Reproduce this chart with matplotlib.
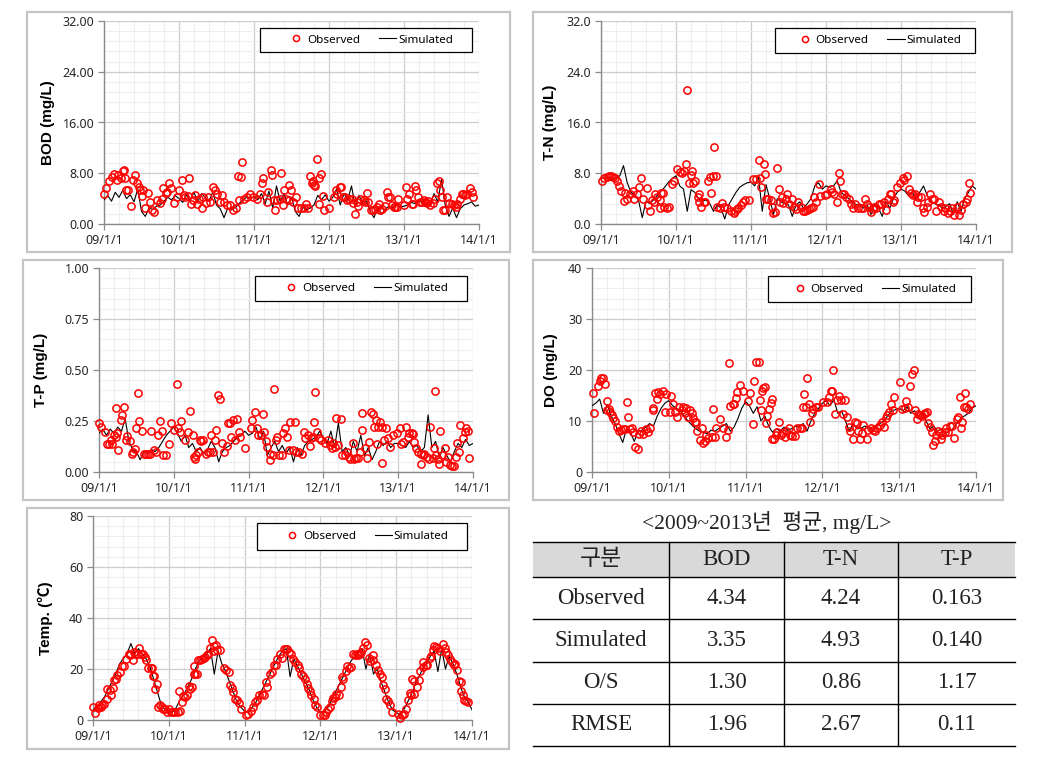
import numpy as np
import matplotlib
matplotlib.use("Agg")
import matplotlib.pyplot as plt
from matplotlib.patches import Rectangle
from matplotlib.lines import Line2D
from matplotlib.ticker import MultipleLocator, FormatStrFormatter

# ---------------- data (time = years since 2009-01-01) ----------------
year_labels = ['09/1/1', '10/1/1', '11/1/1', '12/1/1', '13/1/1', '14/1/1']
legend_labels = ['Observed', 'Simulated']

bod_obs_t = [0.00, 0.03, 0.07, 0.10, 0.13, 0.17, 0.19, 0.22, 0.25, 0.27,
             0.28, 0.29, 0.32, 0.36, 0.39, 0.41, 0.44, 0.46, 0.48, 0.50,
             0.52, 0.55, 0.59, 0.61, 0.64, 0.67, 0.70, 0.74, 0.77, 0.79,
             0.82, 0.84, 0.87, 0.89, 0.93, 0.97, 1.00, 1.04, 1.06, 1.08,
             1.12, 1.13, 1.16, 1.19, 1.21, 1.24, 1.27, 1.30, 1.32, 1.36,
             1.39, 1.41, 1.45, 1.48, 1.51, 1.55, 1.57, 1.60, 1.64, 1.68,
             1.72, 1.76, 1.78, 1.80, 1.82, 1.84, 1.87, 1.90, 1.95, 1.99,
             2.04, 2.08, 2.10, 2.12, 2.17, 2.19, 2.22, 2.24, 2.27, 2.28,
             2.31, 2.35, 2.36, 2.39, 2.40, 2.43, 2.46, 2.47, 2.49, 2.52,
             2.56, 2.59, 2.63, 2.66, 2.69, 2.72, 2.75, 2.77, 2.78, 2.80,
             2.81, 2.84, 2.86, 2.87, 2.89, 2.92, 2.93, 3.00, 3.07, 3.09,
             3.11, 3.14, 3.16, 3.18, 3.21, 3.24, 3.27, 3.30, 3.32, 3.35,
             3.37, 3.39, 3.41, 3.46, 3.48, 3.50, 3.52, 3.56, 3.59, 3.61,
             3.64, 3.66, 3.68, 3.70, 3.75, 3.77, 3.79, 3.81, 3.84, 3.86,
             3.88, 3.91, 3.92, 4.00, 4.03, 4.04, 4.07, 4.10, 4.12, 4.15,
             4.16, 4.18, 4.21, 4.24, 4.26, 4.28, 4.30, 4.32, 4.35, 4.39,
             4.41, 4.44, 4.46, 4.48, 4.50, 4.52, 4.55, 4.57, 4.60, 4.64,
             4.67, 4.69, 4.71, 4.74, 4.77, 4.79, 4.81, 4.84, 4.88, 4.90,
             4.92]
bod_obs_v = [4.7, 5.6, 6.7, 7.4, 7.9, 7.0, 7.7, 7.2, 8.3, 8.5,
             7.2, 5.3, 5.3, 2.9, 6.9, 7.7, 6.4, 5.8, 5.3, 4.4,
             5.4, 2.5, 4.9, 3.5, 2.2, 1.9, 3.8, 3.3, 3.9, 5.6,
             4.9, 5.1, 6.5, 5.6, 3.3, 4.3, 5.4, 6.9, 4.6, 4.2,
             4.4, 7.2, 3.2, 3.8, 4.6, 3.2, 4.0, 2.6, 4.3, 3.3,
             4.3, 3.4, 5.9, 5.4, 4.8, 3.5, 4.6, 3.4, 3.0, 3.0,
             2.2, 2.5, 7.5, 3.8, 7.4, 9.8, 3.9, 4.3, 4.8, 4.3,
             4.0, 4.8, 6.5, 7.2, 3.5, 5.1, 8.5, 7.7, 3.8, 2.2,
             3.8, 3.9, 8.0, 3.0, 5.4, 4.0, 3.8, 6.1, 5.4, 3.5,
             4.3, 2.5, 2.5, 2.5, 3.2, 2.5, 7.5, 6.4, 6.7, 6.1,
             6.0, 10.2, 7.2, 3.2, 7.9, 4.4, 2.2, 2.5, 4.2, 5.4,
             4.8, 5.9, 5.8, 4.3, 4.3, 3.8, 3.9, 4.0, 3.3, 1.6,
             3.4, 2.8, 4.0, 3.8, 3.5, 4.9, 3.4, 2.2, 2.2, 2.3,
             2.7, 3.2, 2.2, 2.3, 2.8, 5.1, 4.3, 4.2, 3.0, 2.7,
             2.7, 2.7, 4.0, 3.0, 5.9, 4.0, 4.8, 3.2, 3.2, 6.0,
             5.4, 4.3, 3.5, 3.5, 3.8, 3.5, 3.3, 3.7, 3.0, 3.3,
             4.0, 6.4, 6.7, 5.3, 4.3, 2.2, 2.2, 4.2, 3.3, 3.2,
             3.0, 2.7, 3.2, 4.0, 4.8, 4.8, 4.6, 4.8, 5.6, 5.1,
             4.3]
bod_sim = [3.8, 4.5, 3.6, 5.0, 4.2, 5.3, 4.0, 4.6, 3.5, 5.5,
           2.0, 1.2, 2.5, 2.3, 2.8, 3.0, 3.6, 4.2, 3.8, 4.5,
           4.0, 3.4, 4.6, 3.8, 5.0, 3.5, 4.8, 4.2, 3.6, 5.0,
           3.0, 2.4, 1.0, 2.5, 2.2, 2.6, 3.2, 3.8, 4.2, 4.0,
           4.3, 3.8, 4.8, 3.2, 5.2, 2.5, 6.0, 3.5, 4.8, 3.0,
           4.2, 2.0, 1.2, 2.6, 2.3, 2.5, 3.0, 4.5, 3.8, 4.6,
           3.6, 4.2, 5.5, 3.0, 4.8, 3.8, 6.0, 2.8, 4.5, 3.2,
           3.6, 2.0, 1.0, 2.6, 1.5, 2.4, 2.8, 2.6, 3.0, 2.7,
           2.8, 3.0, 3.4, 3.2, 3.6, 3.4, 4.2, 3.0, 4.8, 3.5,
           7.0, 3.0, 1.2, 2.5, 1.0, 2.4, 3.0, 3.2, 3.5, 2.8,
           3.0]

tn_obs_t = [0.01, 0.04, 0.08, 0.10, 0.13, 0.16, 0.19, 0.21, 0.24, 0.26,
            0.30, 0.32, 0.35, 0.39, 0.42, 0.44, 0.48, 0.51, 0.53, 0.56,
            0.61, 0.63, 0.65, 0.68, 0.70, 0.72, 0.75, 0.78, 0.79, 0.80,
            0.82, 0.84, 0.88, 0.91, 0.95, 0.97, 1.01, 1.05, 1.08, 1.10,
            1.13, 1.14, 1.17, 1.20, 1.21, 1.23, 1.25, 1.29, 1.30, 1.31,
            1.33, 1.37, 1.39, 1.43, 1.45, 1.47, 1.49, 1.51, 1.53, 1.55,
            1.58, 1.61, 1.64, 1.68, 1.73, 1.77, 1.79, 1.81, 1.83, 1.86,
            1.89, 1.92, 1.97, 2.03, 2.07, 2.10, 2.12, 2.13, 2.17, 2.19,
            2.20, 2.23, 2.26, 2.28, 2.29, 2.32, 2.35, 2.37, 2.39, 2.41,
            2.43, 2.46, 2.48, 2.51, 2.54, 2.57, 2.60, 2.63, 2.66, 2.69,
            2.72, 2.74, 2.77, 2.80, 2.82, 2.84, 2.87, 2.90, 2.92, 2.98,
            3.01, 3.06, 3.08, 3.10, 3.15, 3.17, 3.19, 3.21, 3.24, 3.27,
            3.30, 3.33, 3.36, 3.39, 3.42, 3.46, 3.49, 3.52, 3.55, 3.57,
            3.60, 3.63, 3.64, 3.67, 3.70, 3.73, 3.77, 3.80, 3.82, 3.85,
            3.87, 3.89, 3.91, 3.94, 3.99, 4.03, 4.04, 4.08, 4.10, 4.13,
            4.16, 4.19, 4.21, 4.23, 4.26, 4.29, 4.31, 4.34, 4.36, 4.38,
            4.41, 4.44, 4.47, 4.50, 4.53, 4.57, 4.59, 4.62, 4.65, 4.68,
            4.70, 4.74, 4.77, 4.80, 4.83, 4.86, 4.88, 4.90, 4.92]
tn_obs_v = [6.7, 7.3, 7.4, 7.6, 7.6, 7.4, 7.2, 6.7, 6.0, 5.2,
            3.6, 4.9, 4.0, 4.8, 5.2, 3.9, 4.7, 5.9, 7.2, 3.9,
            5.6, 3.0, 2.1, 3.8, 3.5, 4.7, 4.3, 3.8, 2.6, 4.9,
            4.9, 2.7, 2.5, 2.7, 6.3, 6.7, 8.6, 8.2, 8.1, 8.4,
            9.5, 21.2, 6.5, 7.7, 8.4, 6.5, 6.7, 4.3, 3.5, 4.7,
            2.7, 3.5, 3.5, 6.7, 7.4, 4.9, 7.6, 12.1, 7.6, 2.7,
            2.6, 3.3, 2.7, 2.5, 2.1, 1.7, 2.1, 2.3, 2.6, 3.0,
            3.5, 3.8, 3.8, 7.1, 7.1, 10.1, 7.2, 5.9, 9.5, 7.9,
            4.0, 4.0, 3.8, 2.7, 1.7, 1.9, 8.9, 5.5, 3.5, 4.3,
            3.3, 3.9, 4.7, 3.1, 3.9, 2.7, 2.3, 3.5, 2.7, 2.1,
            2.1, 2.2, 2.3, 2.5, 2.7, 4.2, 3.4, 6.3, 4.4, 4.6,
            4.7, 5.5, 5.1, 4.8, 3.4, 8.0, 6.8, 4.8, 4.8, 4.3,
            3.9, 3.1, 2.5, 3.1, 2.5, 2.6, 2.6, 3.9, 3.1, 2.7,
            1.9, 2.3, 2.7, 2.5, 3.1, 3.1, 3.4, 2.2, 3.9, 4.7,
            4.8, 3.4, 3.8, 5.8, 6.5, 7.2, 6.9, 7.6, 5.5, 4.9,
            4.6, 4.7, 3.5, 4.3, 4.2, 2.5, 1.9, 2.7, 3.5, 4.8,
            3.9, 3.9, 2.1, 3.5, 2.7, 2.1, 2.5, 1.7, 2.1, 2.5,
            1.4, 2.7, 1.4, 2.2, 3.1, 3.5, 3.9, 6.5, 4.9]
tn_sim = [7.5, 7.2, 7.4, 7.0, 7.3, 7.6, 9.2, 6.5, 5.0, 4.5,
          3.8, 1.0, 3.6, 3.2, 3.8, 4.5, 5.2, 5.8, 6.6, 7.2,
          7.6, 6.0, 5.5, 2.0, 5.4, 5.0, 4.0, 3.6, 3.8, 3.2,
          2.0, 3.0, 2.5, 0.8, 3.0, 4.0, 5.0, 5.8, 6.2, 6.5,
          6.6, 6.0, 7.5, 2.0, 6.2, 4.0, 1.5, 4.0, 3.5, 3.2,
          3.0, 1.2, 3.0, 3.5, 2.5, 3.2, 4.0, 6.0, 6.5, 5.5,
          6.0, 5.8, 6.0, 6.8, 5.0, 4.5, 4.0, 3.5, 3.0, 3.2,
          2.5, 3.0, 1.5, 3.2, 2.5, 1.2, 3.5, 2.5, 4.0, 5.0,
          5.5, 5.2, 4.5, 5.0, 4.0, 5.0, 6.0, 4.5, 3.5, 3.2,
          3.0, 2.5, 2.8, 3.2, 1.5, 3.5, 2.0, 4.0, 5.0, 6.0,
          5.5]

tp_obs_t = [0.00, 0.03, 0.08, 0.11, 0.14, 0.16, 0.18, 0.20, 0.23, 0.24,
            0.23, 0.26, 0.29, 0.31, 0.33, 0.36, 0.38, 0.41, 0.44, 0.46,
            0.48, 0.50, 0.52, 0.54, 0.57, 0.60, 0.63, 0.66, 0.68, 0.70,
            0.73, 0.76, 0.79, 0.81, 0.84, 0.86, 0.89, 0.93, 0.96, 1.00,
            1.04, 1.06, 1.08, 1.10, 1.15, 1.19, 1.22, 1.25, 1.27, 1.28,
            1.30, 1.33, 1.35, 1.37, 1.39, 1.43, 1.46, 1.48, 1.50, 1.53,
            1.55, 1.57, 1.59, 1.62, 1.64, 1.67, 1.71, 1.73, 1.75, 1.77,
            1.79, 1.82, 1.84, 1.87, 1.89, 1.95, 2.03, 2.05, 2.08, 2.11,
            2.13, 2.16, 2.19, 2.20, 2.23, 2.25, 2.28, 2.29, 2.32, 2.34,
            2.36, 2.38, 2.41, 2.44, 2.46, 2.48, 2.52, 2.54, 2.56, 2.59,
            2.62, 2.64, 2.68, 2.72, 2.74, 2.76, 2.80, 2.82, 2.84, 2.86,
            2.88, 2.89, 2.92, 2.94, 2.97, 3.02, 3.06, 3.09, 3.11, 3.13,
            3.15, 3.17, 3.20, 3.24, 3.25, 3.29, 3.31, 3.34, 3.36, 3.39,
            3.41, 3.43, 3.46, 3.49, 3.51, 3.52, 3.55, 3.58, 3.61, 3.63,
            3.66, 3.67, 3.70, 3.71, 3.73, 3.76, 3.78, 3.79, 3.81, 3.84,
            3.86, 3.89, 3.93, 3.98, 4.02, 4.04, 4.06, 4.10, 4.13, 4.15,
            4.18, 4.20, 4.21, 4.24, 4.27, 4.30, 4.31, 4.33, 4.35, 4.38,
            4.41, 4.43, 4.46, 4.48, 4.49, 4.51, 4.53, 4.55, 4.56, 4.59,
            4.62, 4.64, 4.67, 4.69, 4.72, 4.74, 4.77, 4.79, 4.81, 4.83,
            4.86, 4.89, 4.91, 4.93, 4.95]
tp_obs_v = [0.239, 0.223, 0.198, 0.136, 0.136, 0.157, 0.136, 0.182, 0.173, 0.190,
            0.316, 0.108, 0.255, 0.277, 0.321, 0.157, 0.178, 0.152, 0.087, 0.100,
            0.113, 0.218, 0.386, 0.252, 0.201, 0.087, 0.087, 0.087, 0.087, 0.201,
            0.108, 0.100, 0.182, 0.252, 0.201, 0.083, 0.083, 0.136, 0.239, 0.206,
            0.430, 0.214, 0.198, 0.252, 0.157, 0.198, 0.300, 0.182, 0.075, 0.064,
            0.083, 0.100, 0.157, 0.152, 0.157, 0.087, 0.100, 0.097, 0.182, 0.100,
            0.157, 0.206, 0.378, 0.357, 0.141, 0.100, 0.129, 0.239, 0.239, 0.173,
            0.255, 0.157, 0.260, 0.198, 0.173, 0.119, 0.214, 0.255, 0.296, 0.218,
            0.182, 0.182, 0.283, 0.198, 0.152, 0.124, 0.059, 0.087, 0.083, 0.408,
            0.157, 0.173, 0.083, 0.083, 0.190, 0.214, 0.173, 0.108, 0.247, 0.108,
            0.247, 0.097, 0.097, 0.087, 0.198, 0.169, 0.182, 0.129, 0.169, 0.173,
            0.247, 0.391, 0.198, 0.165, 0.157, 0.141, 0.157, 0.133, 0.119, 0.141,
            0.124, 0.264, 0.133, 0.260, 0.083, 0.083, 0.100, 0.075, 0.064, 0.141,
            0.064, 0.070, 0.070, 0.100, 0.206, 0.288, 0.116, 0.067, 0.149, 0.296,
            0.283, 0.223, 0.255, 0.136, 0.223, 0.247, 0.223, 0.043, 0.157, 0.218,
            0.165, 0.124, 0.182, 0.190, 0.218, 0.136, 0.149, 0.223, 0.173, 0.190,
            0.190, 0.185, 0.149, 0.116, 0.100, 0.087, 0.038, 0.083, 0.087, 0.075,
            0.064, 0.223, 0.067, 0.116, 0.399, 0.083, 0.064, 0.038, 0.201, 0.083,
            0.119, 0.051, 0.075, 0.034, 0.031, 0.031, 0.075, 0.141, 0.100, 0.231,
            0.169, 0.198, 0.214, 0.201, 0.070]
tp_sim = [0.19, 0.21, 0.18, 0.21, 0.19, 0.22, 0.20, 0.26, 0.15, 0.11,
          0.10, 0.06, 0.10, 0.09, 0.11, 0.10, 0.12, 0.15, 0.18, 0.20,
          0.22, 0.19, 0.15, 0.18, 0.12, 0.14, 0.10, 0.12, 0.09, 0.11,
          0.15, 0.12, 0.05, 0.10, 0.12, 0.13, 0.15, 0.17, 0.18, 0.20,
          0.18, 0.19, 0.22, 0.16, 0.20, 0.08, 0.12, 0.15, 0.10, 0.13,
          0.09, 0.12, 0.05, 0.12, 0.08, 0.13, 0.15, 0.16, 0.17, 0.20,
          0.17, 0.14, 0.20, 0.12, 0.24, 0.10, 0.12, 0.08, 0.15, 0.10,
          0.18, 0.08, 0.12, 0.06, 0.10, 0.15, 0.13, 0.15, 0.12, 0.14,
          0.14, 0.13, 0.12, 0.15, 0.12, 0.13, 0.10, 0.12, 0.28, 0.12,
          0.15, 0.07, 0.12, 0.08, 0.05, 0.10, 0.14, 0.12, 0.16, 0.13,
          0.14]

do_obs_t = [0.01, 0.03, 0.08, 0.10, 0.12, 0.14, 0.17, 0.19, 0.20, 0.22,
            0.24, 0.26, 0.27, 0.30, 0.32, 0.35, 0.38, 0.40, 0.43, 0.45,
            0.47, 0.50, 0.52, 0.53, 0.56, 0.60, 0.61, 0.64, 0.67, 0.70,
            0.73, 0.76, 0.79, 0.80, 0.82, 0.84, 0.86, 0.89, 0.93, 0.95,
            0.97, 1.02, 1.03, 1.06, 1.08, 1.11, 1.13, 1.17, 1.19, 1.21,
            1.23, 1.25, 1.27, 1.30, 1.32, 1.34, 1.36, 1.37, 1.40, 1.43,
            1.45, 1.47, 1.49, 1.51, 1.56, 1.58, 1.60, 1.62, 1.67, 1.71,
            1.75, 1.77, 1.79, 1.80, 1.83, 1.85, 1.87, 1.89, 1.93, 1.96,
            2.03, 2.06, 2.09, 2.11, 2.13, 2.18, 2.19, 2.20, 2.21, 2.23,
            2.25, 2.27, 2.28, 2.31, 2.33, 2.35, 2.34, 2.37, 2.40, 2.41,
            2.44, 2.46, 2.48, 2.51, 2.53, 2.56, 2.58, 2.61, 2.64, 2.67,
            2.71, 2.73, 2.75, 2.76, 2.79, 2.80, 2.82, 2.84, 2.86, 2.88,
            2.92, 2.94, 3.01, 3.06, 3.08, 3.11, 3.13, 3.14, 3.17, 3.19,
            3.21, 3.24, 3.27, 3.30, 3.32, 3.34, 3.36, 3.40, 3.43, 3.45,
            3.47, 3.49, 3.51, 3.53, 3.58, 3.60, 3.63, 3.66, 3.69, 3.71,
            3.75, 3.77, 3.80, 3.83, 3.84, 3.87, 3.89, 3.92, 3.93, 4.01,
            4.03, 4.07, 4.09, 4.12, 4.14, 4.17, 4.19, 4.21, 4.23, 4.25,
            4.27, 4.30, 4.32, 4.34, 4.36, 4.38, 4.40, 4.43, 4.44, 4.46,
            4.48, 4.50, 4.53, 4.54, 4.56, 4.59, 4.61, 4.63, 4.66, 4.69,
            4.71, 4.75, 4.77, 4.79, 4.80, 4.82, 4.84, 4.86, 4.87, 4.89,
            4.92]
do_obs_v = [15.5, 11.5, 16.8, 17.9, 18.4, 18.5, 17.2, 14.0, 12.2, 12.4,
            11.8, 11.2, 10.5, 10.0, 8.9, 8.1, 8.2, 8.4, 8.4, 13.7,
            10.7, 8.5, 8.7, 7.9, 5.0, 4.5, 7.4, 8.1, 7.4, 8.4,
            7.9, 8.7, 12.2, 12.6, 15.5, 14.4, 15.7, 15.3, 15.8, 11.8,
            15.3, 11.8, 15.0, 13.3, 11.8, 10.7, 12.8, 12.2, 12.8, 11.5,
            12.6, 10.7, 12.2, 11.5, 10.5, 9.9, 9.8, 8.1, 6.3, 8.7,
            5.6, 6.0, 7.3, 6.7, 6.9, 12.4, 6.9, 8.6, 10.4, 8.7,
            6.9, 8.2, 21.3, 13.0, 13.3, 13.3, 14.6, 15.6, 17.1, 15.8,
            13.9, 15.5, 9.4, 17.9, 21.5, 21.5, 14.1, 12.2, 15.9, 16.4,
            16.6, 9.6, 10.9, 12.4, 13.5, 14.3, 6.5, 6.5, 7.3, 7.9,
            9.8, 7.3, 7.6, 6.9, 8.1, 8.6, 7.3, 7.1, 7.1, 8.7,
            8.7, 8.6, 12.8, 15.3, 12.8, 18.4, 13.3, 9.9, 11.5, 12.4,
            12.8, 12.8, 13.8, 13.8, 14.8, 15.8, 15.8, 20.0, 11.3, 14.1,
            15.0, 14.1, 11.3, 14.1, 10.7, 8.9, 8.1, 6.5, 9.9, 9.6,
            8.1, 6.5, 7.6, 9.2, 6.5, 8.2, 8.7, 8.2, 8.1, 8.6,
            9.2, 9.8, 8.9, 10.5, 11.1, 11.7, 13.3, 12.2, 14.8, 17.6,
            12.4, 12.5, 14.0, 12.8, 16.8, 19.2, 20.0, 12.2, 10.4, 11.3,
            11.2, 10.9, 11.3, 11.5, 11.7, 9.6, 8.9, 7.8, 5.2, 6.1,
            7.3, 8.1, 7.6, 6.5, 7.3, 7.9, 8.6, 7.9, 9.1, 9.1,
            6.6, 10.4, 10.7, 14.8, 8.6, 9.9, 12.8, 15.5, 12.8, 12.4,
            13.3]
do_sim = [13.0, 13.5, 14.3, 11.5, 13.2, 11.0, 9.5, 7.5, 5.8, 8.5,
          7.8, 6.0, 8.0, 8.2, 8.8, 9.5, 9.0, 11.0, 12.5, 13.5,
          14.0, 13.0, 12.5, 12.0, 11.0, 10.0, 9.2, 8.5, 8.0, 7.8,
          7.5, 8.2, 8.0, 8.5, 9.0, 9.5, 8.0, 8.8, 10.5, 12.5,
          13.8, 13.0, 11.5, 12.8, 10.0, 11.0, 9.0, 7.8, 8.5, 8.0,
          8.8, 8.2, 8.5, 9.0, 8.8, 9.5, 8.0, 10.0, 11.5, 12.5,
          13.5, 14.0, 13.0, 14.2, 11.5, 12.0, 10.0, 8.0, 9.5, 8.5,
          8.5, 9.0, 8.8, 8.0, 9.0, 9.5, 10.0, 11.0, 12.0, 12.2,
          12.5, 12.0, 12.8, 11.5, 12.0, 11.0, 11.5, 10.0, 8.5, 9.0,
          8.0, 8.5, 7.5, 8.0, 8.5, 9.5, 10.5, 11.0, 11.5, 12.5,
          13.0]

temp_obs_t = [0.00, 0.02, 0.06, 0.08, 0.11, 0.12, 0.15, 0.18, 0.19, 0.22,
              0.24, 0.26, 0.28, 0.31, 0.32, 0.36, 0.38, 0.41, 0.44, 0.47,
              0.49, 0.53, 0.54, 0.56, 0.59, 0.61, 0.63, 0.66, 0.68, 0.70,
              0.73, 0.76, 0.78, 0.79, 0.81, 0.82, 0.84, 0.86, 0.89, 0.91,
              0.93, 0.95, 0.97, 1.00, 1.03, 1.06, 1.08, 1.12, 1.14, 1.15,
              1.17, 1.19, 1.22, 1.24, 1.26, 1.28, 1.30, 1.33, 1.33, 1.35,
              1.37, 1.39, 1.41, 1.44, 1.46, 1.48, 1.50, 1.52, 1.54, 1.57,
              1.59, 1.60, 1.62, 1.64, 1.67, 1.73, 1.76, 1.79, 1.81, 1.83,
              1.85, 1.87, 1.90, 1.92, 1.95, 2.02, 2.05, 2.08, 2.11, 2.14,
              2.17, 2.19, 2.23, 2.26, 2.28, 2.29, 2.33, 2.36, 2.39, 2.41,
              2.43, 2.47, 2.49, 2.52, 2.55, 2.56, 2.59, 2.61, 2.64, 2.66,
              2.70, 2.72, 2.75, 2.77, 2.80, 2.82, 2.84, 2.86, 2.88, 2.91,
              2.93, 2.95, 3.00, 3.03, 3.06, 3.08, 3.10, 3.13, 3.15, 3.17,
              3.19, 3.21, 3.25, 3.27, 3.28, 3.30, 3.34, 3.35, 3.38, 3.41,
              3.43, 3.45, 3.48, 3.50, 3.52, 3.54, 3.56, 3.59, 3.62, 3.64,
              3.66, 3.69, 3.70, 3.74, 3.76, 3.78, 3.81, 3.83, 3.85, 3.87,
              3.89, 3.92, 3.94, 4.03, 4.05, 4.07, 4.10, 4.13, 4.16, 4.18,
              4.19, 4.21, 4.23, 4.24, 4.27, 4.30, 4.32, 4.35, 4.36, 4.39,
              4.41, 4.44, 4.46, 4.48, 4.50, 4.52, 4.55, 4.58, 4.62, 4.64,
              4.66, 4.68, 4.71, 4.74, 4.76, 4.78, 4.80, 4.83, 4.85, 4.86,
              4.88, 4.89, 4.92, 4.95]
temp_obs_v = [5.1, 2.9, 4.7, 6.0, 5.1, 6.0, 6.4, 8.4, 12.0, 11.6,
              9.9, 12.6, 15.6, 16.0, 17.5, 18.8, 21.2, 21.2, 24.1, 26.0,
              25.4, 23.4, 26.7, 25.7, 26.0, 28.3, 26.0, 25.7, 24.7, 23.4,
              20.2, 20.2, 20.2, 17.3, 17.3, 12.3, 14.3, 5.1, 5.8, 5.1,
              4.2, 4.2, 3.1, 4.2, 3.1, 3.1, 3.1, 3.1, 11.3, 3.4,
              7.1, 9.4, 9.0, 9.9, 13.4, 12.0, 13.0, 18.2, 21.2, 18.2,
              18.2, 23.4, 23.4, 24.1, 24.3, 24.7, 25.4, 26.0, 28.3, 31.3,
              27.0, 29.1, 29.3, 27.4, 27.4, 20.2, 19.5, 18.8, 13.6, 12.6,
              11.0, 8.4, 7.7, 6.8, 4.2, 2.1, 2.5, 3.4, 5.1, 7.1,
              7.7, 9.7, 10.3, 9.9, 14.9, 13.0, 18.2, 18.8, 21.5, 21.7,
              23.8, 25.7, 24.3, 27.7, 28.0, 27.7, 26.7, 25.7, 23.8, 22.8,
              21.5, 20.2, 18.2, 17.3, 16.2, 14.3, 12.6, 11.3, 9.7, 8.4,
              6.0, 5.1, 1.8, 2.1, 1.8, 3.1, 4.2, 5.1, 7.3, 8.6,
              9.0, 10.3, 9.9, 13.0, 16.9, 16.2, 19.1, 21.2, 20.2, 20.8,
              26.0, 25.4, 26.0, 25.4, 26.0, 26.7, 28.3, 30.4, 29.3, 24.3,
              23.0, 23.4, 25.4, 21.5, 19.5, 18.2, 16.9, 13.6, 12.0, 8.1,
              7.3, 5.8, 3.1, 2.5, 0.8, 2.1, 2.5, 4.5, 7.7, 10.7,
              9.9, 16.2, 15.2, 10.3, 13.0, 15.6, 19.1, 20.8, 22.8, 21.7,
              21.7, 24.3, 25.1, 27.4, 29.1, 28.7, 28.3, 27.0, 30.0, 28.3,
              26.7, 25.4, 24.1, 22.8, 21.7, 22.1, 19.5, 15.2, 14.9, 11.3,
              9.7, 7.7, 7.3, 7.1]
temp_sim = [4, 5, 7, 9, 12, 15, 18, 22, 24, 26,
            30, 26, 28, 26, 24, 21, 16, 11, 6, 4,
            3.5, 3, 5, 8, 10, 13, 16, 20, 23, 25,
            26, 28, 18, 27, 22, 19, 15, 11, 7, 5,
            3.5, 3, 5, 7, 10, 13, 16, 19, 22, 25,
            27, 28, 17, 24, 21, 18, 15, 12, 8, 5,
            3, 3.5, 5, 8, 11, 14, 17, 20, 23, 25,
            27, 28, 20, 26, 18, 20, 15, 11, 7, 4,
            3, 2, 4, 7, 10, 14, 17, 20, 22, 25,
            27, 19, 28, 20, 25, 22, 18, 13, 9, 7,
            4]

table_header = ['구분', 'BOD', 'T-N', 'T-P']
table_rows = ['Observed', 'Simulated', 'O/S', 'RMSE']
table_bod = ['4.34', '3.35', '1.30', '1.96']
table_tn = ['4.24', '4.93', '0.86', '2.67']
table_tp = ['0.163', '0.140', '1.17', '0.11']
table_title = '<2009~2013년  평균, mg/L>'

# ---------------- figure ----------------
plt.rcParams['font.family'] = ['Noto Sans', 'DejaVu Sans']
W, H = 1046, 769
fig = plt.figure(figsize=(W / 100, H / 100), dpi=100)
fig.patch.set_facecolor('white')


def fbox(x0, y0, x1, y1):
    return [x0 / W, 1 - y1 / H, (x1 - x0) / W, (y1 - y0) / H]


def panel(axpx, framepx, obs_t, obs_v, sim_v, ymax, ystep, fmt, ylabel, legpx, labx):
    fx0, fy0, fx1, fy1 = framepx
    fig.add_artist(Rectangle((fx0 / W, 1 - fy1 / H), (fx1 - fx0) / W, (fy1 - fy0) / H,
                             transform=fig.transFigure, fill=False, ec='#c4c4c4', lw=1.6))
    ax = fig.add_axes(fbox(*axpx))
    sim_t = np.linspace(0, 5, len(sim_v))
    sim_line, = ax.plot(sim_t, sim_v, color='black', lw=0.8, zorder=3)
    obs_pts, = ax.plot(obs_t, obs_v, ls='none', marker='o', ms=5.2, mfc='none',
                       mec='#ff0000', mew=1.1, zorder=4, clip_on=False)
    ax.set_xlim(0, 5)
    ax.set_ylim(0, ymax)
    ax.set_xticks(np.arange(len(year_labels)), year_labels)
    ax.xaxis.set_minor_locator(MultipleLocator(0.2))
    ax.yaxis.set_major_locator(MultipleLocator(ystep))
    ax.yaxis.set_minor_locator(MultipleLocator(ystep / 5))
    ax.yaxis.set_major_formatter(FormatStrFormatter(fmt))
    ax.grid(True, which='major', color='#cdcdcd', lw=0.9)
    ax.grid(True, which='minor', color='#eeeeee', lw=0.8)
    ax.set_axisbelow(True)
    for s in ('top', 'right'):
        ax.spines[s].set_visible(False)
    for s in ('left', 'bottom'):
        ax.spines[s].set_color('#8a8a8a')
        ax.spines[s].set_linewidth(1.0)
    ax.tick_params(which='major', direction='out', length=4, width=0.9, color='#8a8a8a',
                   labelsize=9, labelcolor='#262626', pad=3)
    ax.tick_params(which='minor', length=0)
    ax.set_ylabel(ylabel, fontsize=11, fontweight='bold',
                  family=['Liberation Sans', 'Noto Sans CJK KR'])
    ax.yaxis.set_label_coords(labx, 0.5)
    # legend box
    ax0, ay0, ax1, ay1 = axpx
    lx0, ly0, lx1, ly1 = legpx
    bx = (lx0 - ax0) / (ax1 - ax0)
    bw = (lx1 - lx0) / (ax1 - ax0)
    by = (ay1 - ly1) / (ay1 - ay0)
    bh = (ly1 - ly0) / (ay1 - ay0)
    ax.add_patch(Rectangle((bx, by), bw, bh, transform=ax.transAxes, fc='white',
                           ec='black', lw=0.9, zorder=4.5, clip_on=False))
    ax.legend([obs_pts, sim_line], legend_labels, loc='center',
              bbox_to_anchor=(bx + bw * 0.52, by + bh / 2), ncol=2, frameon=False,
              fontsize=8.4, handlelength=1.5, handletextpad=0.15, columnspacing=1.6,
              borderaxespad=0, borderpad=0, markerscale=0.85)
    return ax


panel((104, 21, 479, 224), (27, 12, 510, 252), bod_obs_t, bod_obs_v, bod_sim,
      32, 8, '%.2f', 'BOD (mg/L)', (260, 28, 472, 52), -0.131)
panel((601, 21, 976, 224), (533, 12, 1012, 252), tn_obs_t, tn_obs_v, tn_sim,
      32, 8, '%.1f', 'T-N (mg/L)', (775, 28, 975, 53), -0.117)
panel((99, 268, 473, 472), (23, 260, 509, 500), tp_obs_t, tp_obs_v, tp_sim,
      1.0, 0.25, '%.2f', 'T-P (mg/L)', (255, 276, 467, 301), -0.136)
panel((592, 268, 976, 472), (533, 260, 1003, 500), do_obs_t, do_obs_v, do_sim,
      40, 10, '%d', 'DO (mg/L)', (768, 276, 971, 302), -0.089)
panel((93, 516, 472, 720), (27, 508, 509, 749), temp_obs_t, temp_obs_v, temp_sim,
      80, 20, '%d', 'Temp. (\u2103)', (257, 523, 467, 550), -0.106)

# ---------------- table ----------------
serif = ['Liberation Serif', 'Noto Sans CJK KR']
col_x = [533, 669, 784, 898, 1015]
row_y = [542, 577, 619, 662, 704, 746]

fig.add_artist(Rectangle((col_x[0] / W, 1 - row_y[1] / H), (col_x[-1] - col_x[0]) / W,
                         (row_y[1] - row_y[0]) / H, transform=fig.transFigure,
                         fc='#d9d9d9', ec='none'))
for y in row_y:
    fig.add_artist(Line2D([col_x[0] / W, col_x[-1] / W], [1 - y / H, 1 - y / H],
                          transform=fig.transFigure, color='black', lw=1.0))
for x in col_x[1:-1]:
    fig.add_artist(Line2D([x / W, x / W], [1 - row_y[0] / H, 1 - row_y[-1] / H],
                          transform=fig.transFigure, color='black', lw=1.0))

fig.text(767 / W, 1 - 522 / H, table_title, ha='center', va='center',
         fontsize=15.5, family=serif, color='#222222')

cx = [(col_x[i] + col_x[i + 1]) / 2 for i in range(4)]
cy = [(row_y[i] + row_y[i + 1]) / 2 for i in range(5)]
for j, h in enumerate(table_header):
    fig.text(cx[j] / W, 1 - cy[0] / H, h, ha='center', va='center', fontsize=16.5,
             family=serif, color='#222222')
for i in range(len(table_rows)):
    vals = [table_rows[i], table_bod[i], table_tn[i], table_tp[i]]
    for j, v in enumerate(vals):
        fig.text(cx[j] / W, 1 - cy[i + 1] / H, v, ha='center', va='center', fontsize=16.5,
                 family=serif, color='#222222')

fig.savefig('out.png', dpi=100, facecolor='white')
